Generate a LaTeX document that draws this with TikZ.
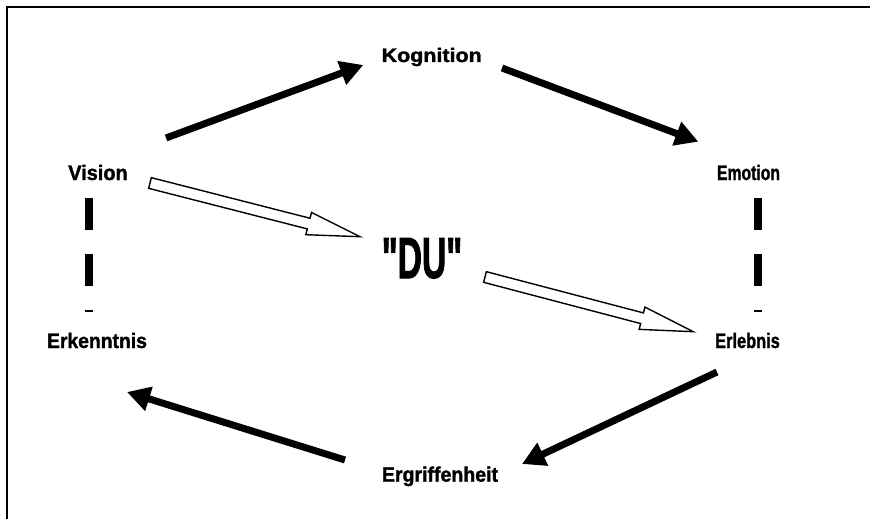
\documentclass[tikz,border=0pt]{standalone}
\usepackage{fontspec}
\setmainfont{Liberation Sans}[BoldFeatures={FakeBold=1.5}]
\newfontfamily\dufont{Liberation Sans}[BoldFeatures={FakeBold=2}]
\usetikzlibrary{arrows.meta,calc}
\newcommand{\hollowarr}[3]{%
  \coordinate (#3) at ($(#2)!53pt!(#1)$);
  \draw[hollow] ($(#1)!5.5pt!90:(#2)$) -- ($(#3)!5.5pt!90:(#2)$) -- ($(#3)!11.5pt!90:(#2)$)
    -- (#2) -- ($(#3)!11.5pt!-90:(#2)$) -- ($(#3)!5.5pt!-90:(#2)$) -- ($(#1)!5.5pt!-90:(#2)$) -- cycle;}
\begin{document}
\begin{tikzpicture}[x=1pt,y=-1pt,
  lbl/.style={inner sep=0pt, anchor=base, font=\bfseries\fontsize{21}{21}\selectfont},
  blackarrow/.style={line width=7pt, -{Triangle[length=23pt,width=24pt]}},
  dashbar/.style={line width=8pt, dash pattern=on 31.7pt off 24.3pt},
  hollow/.style={draw=black, fill=white, line width=1.4pt, line join=miter}]
\useasboundingbox (0,0) rectangle (870,519);
\coordinate (fa) at (7,519);
\coordinate (fb) at (7,7);
\coordinate (fc) at (870,7);
\draw[line width=2.5pt] (fa) -- (fb) -- (fc);

% labels
\node[lbl, font=\bfseries\fontsize{19.5}{19.5}\selectfont] (kog) at (431.7,62) {\scalebox{1.1}[1]{Kognition}};
\node[lbl] (vis) at (98,180) {\scalebox{0.95}[1]{Vision}};
\node[lbl] (emo) at (748.5,180) {\scalebox{0.75}[1]{Emotion}};
\node[lbl, font=\dufont\bfseries\fontsize{58}{58}\selectfont] (du) at (422,278) {\scalebox{0.58}[1]{"DU"}};
\node[lbl] (erk) at (97,348) {\scalebox{0.92}[1]{Erkenntnis}};
\node[lbl] (erl) at (747.5,348) {\scalebox{0.78}[1]{Erlebnis}};
\node[lbl] (erg) at (440,481.7) {\scalebox{0.93}[1]{Ergriffenheit}};

% black arrows
\coordinate (a1s) at (166,138);
\coordinate (a1e) at (363.3,65);
\coordinate (a2s) at (502,68);
\coordinate (a2e) at (698.3,141.7);
\coordinate (a3s) at (717,372);
\coordinate (a3e) at (522,464);
\coordinate (a4s) at (345,460);
\coordinate (a4e) at (127,392);
\draw[blackarrow] (a1s) -- (a1e);
\draw[blackarrow] (a2s) -- (a2e);
\draw[blackarrow] (a3s) -- (a3e);
\draw[blackarrow] (a4s) -- (a4e);

% hollow arrows
\coordinate (h1s) at (150,183);
\coordinate (h1e) at (360,236.7);
\coordinate (h2s) at (485,277);
\coordinate (h2e) at (693.3,331.7);
\hollowarr{h1s}{h1e}{h1h}
\hollowarr{h2s}{h2e}{h2h}

% dashed bars
\coordinate (dl1) at (88.7,198.3);
\coordinate (dl2) at (88.7,312.3);
\coordinate (dr1) at (758.3,198.3);
\coordinate (dr2) at (758.3,312.3);
\draw[dashbar] (dl1) -- (dl2);
\draw[dashbar] (dr1) -- (dr2);
\end{tikzpicture}
\end{document}
